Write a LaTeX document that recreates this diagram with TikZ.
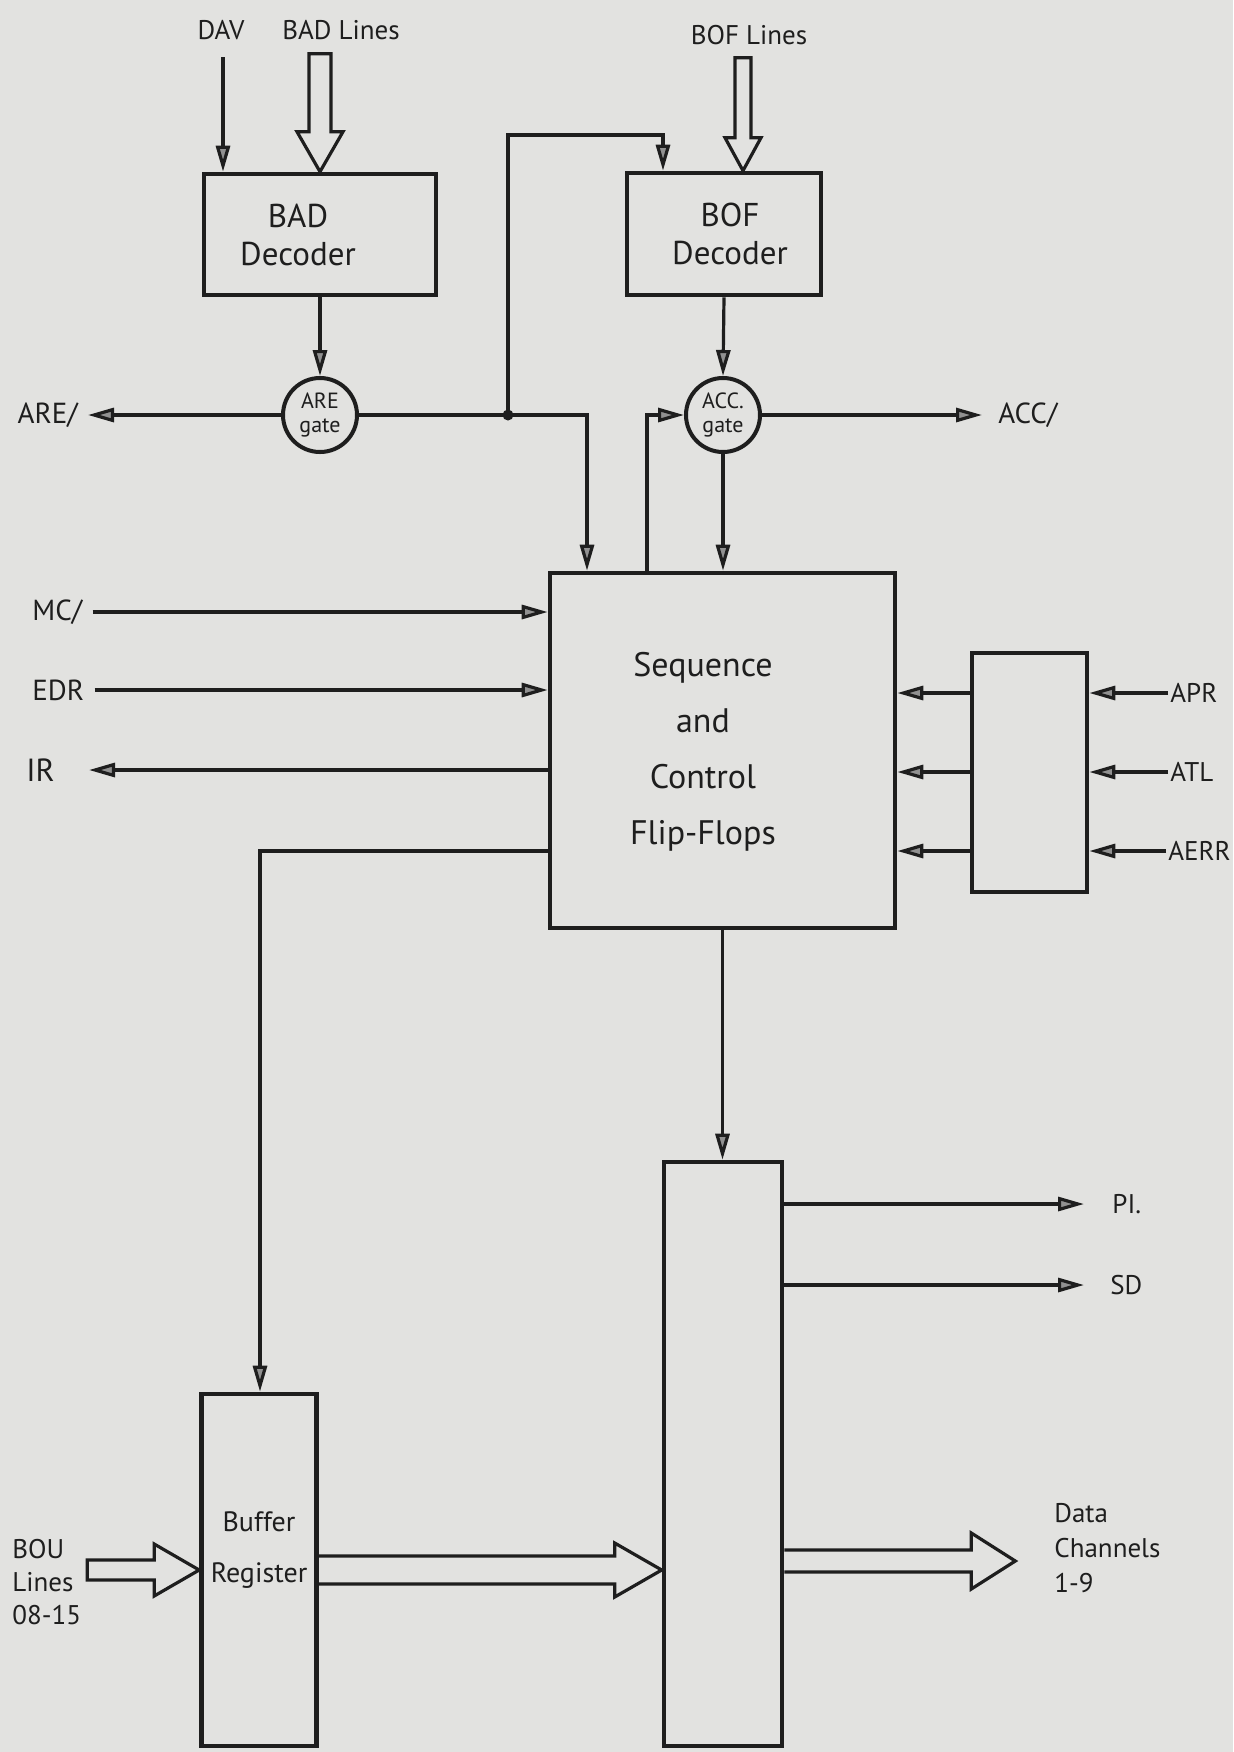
\documentclass[tikz,border=0pt]{standalone}
\usepackage{fontspec}
\setmainfont{PT Sans}
\usetikzlibrary{arrows.meta,calc}
\definecolor{paper}{RGB}{226,226,224}
\definecolor{ink}{RGB}{30,30,30}
\definecolor{headfill}{RGB}{145,145,145}
\begin{document}
\begin{tikzpicture}[x=0.5pt,y=-0.5pt,
  box/.style={draw=ink, line width=2.3pt, rectangle, inner sep=0pt, text=ink, align=center},
  txt/.style={text=ink, inner sep=0pt, align=center},
  gate/.style={draw=ink, line width=2pt, circle, inner sep=0pt, minimum size=37pt, align=center, text=ink, font=\fontsize{11}{12}\selectfont},
  lbl/.style={text=ink, inner sep=1pt, font=\fontsize{13.5}{15}\selectfont},
  arr/.style={draw=ink, line width=1.6pt, -{Triangle[length=13pt,width=7pt,fill=headfill]}},
  hollow/.style={draw=ink, line width=1.6pt, line join=miter}]
\fill[paper] (0,0) rectangle (1233,1752);
\useasboundingbox (0,0) rectangle (1233,1752);

% blocks
\node[box, minimum width=116pt, minimum height=60.5pt] (bad) at (320,234.5) {};
\node[txt, font=\fontsize{16.5}{19}\selectfont] (badtxt) at (298,234.5) {BAD\\Decoder};
\node[box, minimum width=97pt, minimum height=61pt] (bof) at (724,234) {};
\node[txt, font=\fontsize{16.5}{19}\selectfont] (boftxt) at (730,234) {BOF\\Decoder};
\node[gate] (are) at (320,415) {ARE\\gate};
\node[gate] (acc) at (723,415) {ACC.\\gate};
\node[box, minimum width=172.5pt, minimum height=177.5pt] (seq) at (722.5,750.5) {};
\node[txt, font=\fontsize{17}{28}\selectfont] (seqtxt) at (703,752) {Sequence\\and\\Control\\Flip-Flops};
\node[box, minimum width=57.5pt, minimum height=119.5pt] (mux) at (1029.5,772.5) {};
\node[box, minimum width=57.5pt, minimum height=176pt] (buf) at (259,1570) {};
\node[txt, font=\fontsize{14}{25.5}\selectfont] (buftxt) at (259,1550) {Buffer\\Register};
\node[box, minimum width=59pt, minimum height=292pt] (out) at (723,1454) {};
\node[circle, fill=ink, inner sep=0pt, minimum size=5.5pt] (j) at (508,415) {};

% labels
\node[lbl] (dav) at (221,30) {DAV};
\node[lbl] (badl) at (341,30) {BAD Lines};
\node[lbl] (bofl) at (749,35) {BOF Lines};
\node[lbl, anchor=east, font=\fontsize{14.5}{15}\selectfont] (arel) at (80,415) {ARE/};
\node[lbl, anchor=west, font=\fontsize{14.5}{15}\selectfont] (accl) at (996,415) {ACC/};
\node[lbl, anchor=west, font=\fontsize{14.5}{15}\selectfont] (mcl) at (30,612) {MC/};
\node[lbl, anchor=west, font=\fontsize{14.5}{15}\selectfont] (edrl) at (30,690) {EDR};
\node[lbl, anchor=west, font=\fontsize{16}{15}\selectfont] (irl) at (24,770) {IR};
\node[lbl, anchor=west] (aprl) at (1168,693) {APR};
\node[lbl, anchor=west] (atll) at (1168,772) {ATL};
\node[lbl, anchor=west] (aerrl) at (1166,851) {AERR};
\node[lbl, anchor=west] (pil) at (1110,1204) {PI.};
\node[lbl, anchor=west] (sdl) at (1108,1285) {SD};
\node[lbl, anchor=west, align=left, font=\fontsize{13.5}{16.5}\selectfont] (boul) at (10,1582) {BOU\\Lines\\08-15};
\node[lbl, anchor=west, align=left, font=\fontsize{13.5}{17.5}\selectfont] (dcl) at (1052,1548) {Data\\Channels\\1-9};

% coordinates
\coordinate (davS) at (223,57);
\coordinate (jr) at (587,415);
\coordinate (bofTap) at (663,135);
\coordinate (accLoop) at (647,415);
\coordinate (irTip) at (89,770);
\coordinate (bufTap) at (260,851);
\coordinate (dcy) at (0,1561);
\coordinate (dcs) at (out.east |- dcy);
\coordinate (bt) at (out.west |- buf.east);
\coordinate (boft) at ($(bof.north)+(19,0)$);

% thin connectors
\draw[arr] (davS) -- (davS |- bad.north);
\draw[arr] (bad.south) -- (are.north);
\draw[arr] (are.west) -- ($(arel.east)+(8,0)$);
\draw[arr] (are.east) -- (jr) -- (jr |- seq.north);
\draw[arr] (j.center) |- (bofTap) -- (bofTap |- bof.north);
\draw[arr] (bof.south) -- (acc.north);
\draw[arr] (acc.east) -- ($(accl.west)+(-14,0)$);
\draw[arr] (accLoop |- seq.north) -- (accLoop) -- (acc.west);
\draw[arr] (acc.south) -- (acc.south |- seq.north);
\draw[arr] ($(mcl.east)+(8,0)$) -- (mcl.east -| seq.west);
\draw[arr] ($(edrl.east)+(8,0)$) -- (edrl.east -| seq.west);
\draw[arr] (irTip -| seq.west) -- (irTip);
\draw[arr] (bufTap -| seq.west) -- (bufTap) -- (bufTap |- buf.north);
\draw[arr] (aprl.west) -- (aprl.west -| mux.east);
\draw[arr] (atll.west) -- (atll.west -| mux.east);
\draw[arr] (aerrl.west) -- (aerrl.west -| mux.east);
\draw[arr] (aprl.west -| mux.west) -- (aprl.west -| seq.east);
\draw[arr] (atll.west -| mux.west) -- (atll.west -| seq.east);
\draw[arr] (aerrl.west -| mux.west) -- (aerrl.west -| seq.east);
\draw[arr] (seq.south) -- (seq.south |- out.north);
\draw[arr] (pil.west -| out.east) -- ($(pil.west)+(-26,0)$);
\draw[arr] (sdl.west -| out.east) -- ($(sdl.west)+(-24,0)$);

% hollow (bus) arrows
\draw[hollow] (bad.north) -- ++(-23,-40) -- ++(12,0) -- ++(0,-78) -- ++(22,0) -- ++(0,78) -- ++(12,0) -- cycle;
\draw[hollow] (boft) -- ++(-18,-33) -- ++(10,0) -- ++(0,-80) -- ++(16,0) -- ++(0,80) -- ++(10,0) -- cycle;
\draw[hollow] (buf.west) -- ++(-45,-26) -- ++(0,16) -- ++(-67,0) -- ++(0,20) -- ++(67,0) -- ++(0,16) -- cycle;
\draw[hollow] ($(buf.east)+(0,-14)$) -- ($(bt)+(-47,-14)$) -- ($(bt)+(-47,-27)$) -- (bt) -- ($(bt)+(-47,27)$) -- ($(bt)+(-47,14)$) -- ($(buf.east)+(0,14)$);
\draw[hollow] ($(dcs)+(0,-11)$) -- ($(dcs)+(187,-11)$) -- ($(dcs)+(187,-28)$) -- ($(dcs)+(231,0)$) -- ($(dcs)+(187,28)$) -- ($(dcs)+(187,11)$) -- ($(dcs)+(0,11)$);
\end{tikzpicture}
\end{document}
